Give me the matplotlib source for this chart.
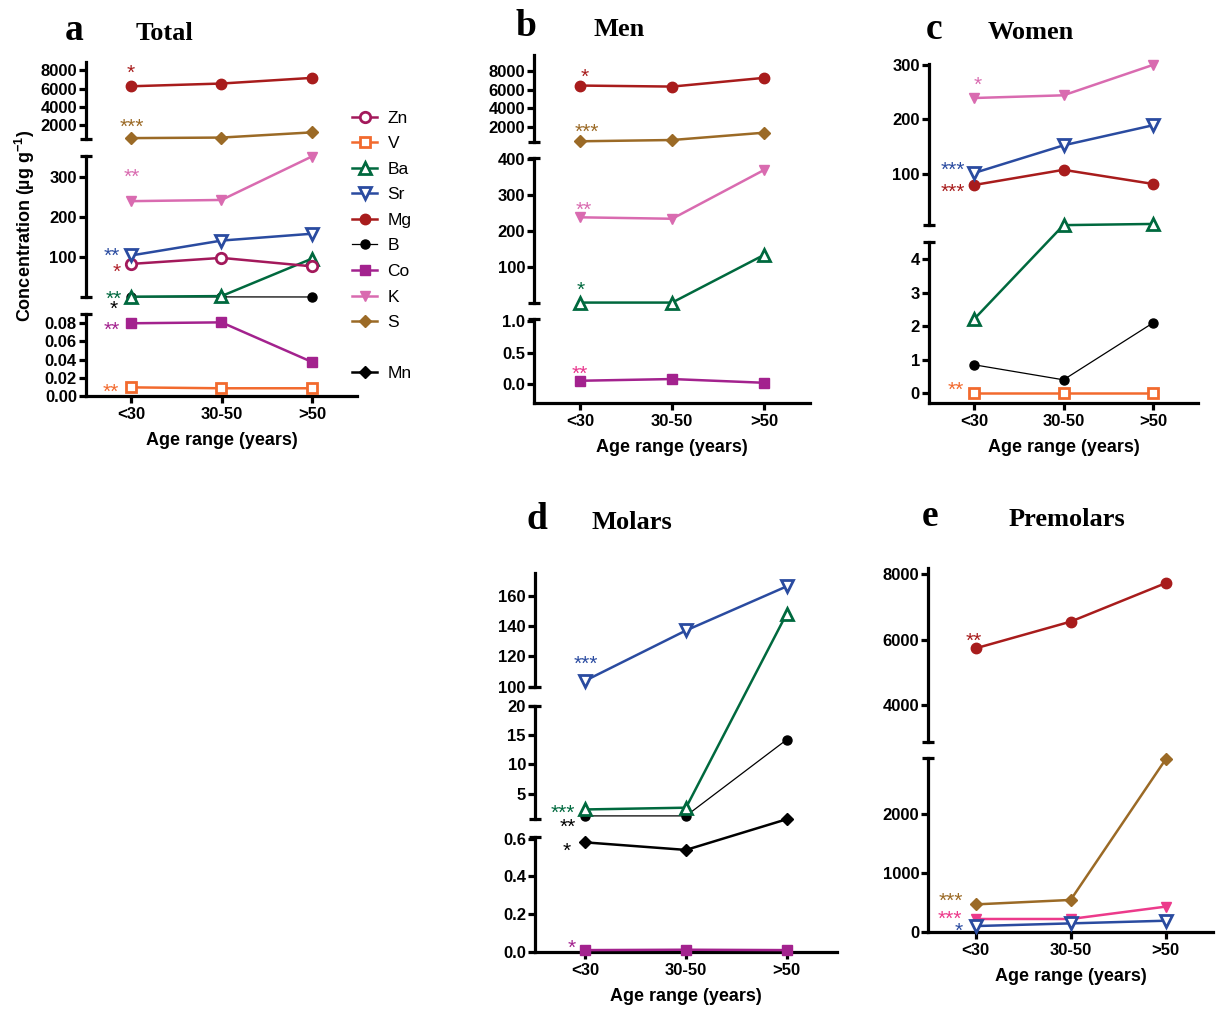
import matplotlib.pyplot as plt
from matplotlib.lines import Line2D

plt.rcParams['font.family'] = ['Liberation Sans', 'DejaVu Sans']
plt.rcParams['mathtext.fontset'] = 'custom'
plt.rcParams['mathtext.rm'] = 'Liberation Sans:bold'
plt.rcParams['mathtext.bf'] = 'Liberation Sans:bold'

ages = ['<30', '30-50', '>50']

# a: Total
total_mg = [6250, 6550, 7170]
total_s = [560, 620, 1190]
total_k = [239, 242, 350]
total_sr = [104, 141, 158]
total_zn = [83, 98, 77]
total_ba = [1.5, 3, 96]
total_b = [1.0, 1.0, 0.8]
total_co = [0.080, 0.081, 0.0375]
total_v = [0.0095, 0.0085, 0.0085]

# b: Men
men_mg = [6430, 6320, 7260]
men_s = [430, 567, 1354]
men_k = [238, 234, 369]
men_ba = [2, 2, 134]
men_co = [0.057, 0.084, 0.025]

# c: Women
women_k = [239, 244, 300]
women_sr = [101, 152, 189]
women_mg = [79, 107, 81]
women_ba = [2.2, 5.3, 7.5]
women_b = [0.85, 0.4, 2.1]
women_v = [0.0, 0.0, 0.0]

# d: Molars
molars_sr = [104, 137, 166]
molars_ba = [2.3, 2.6, 148]
molars_b = [1.2, 1.2, 14.2]
molars_mn = [0.58, 0.54, 0.63]
molars_co = [0.01, 0.012, 0.01]

# e: Premolars
premolars_mg = [5735, 6550, 7725]
premolars_s = [470, 545, 2910]
premolars_k = [224, 224, 432]
premolars_sr = [105, 150, 195]

legend_order = ['Zn', 'V', 'Ba', 'Sr', 'Mg', 'B', 'Co', 'K', 'S']

styles = {
    'Zn': dict(color='#A3195B', marker='o', mfc='white', ms=7.5, mew=2, lw=1.8),
    'V': dict(color='#F26A2E', marker='s', mfc='white', ms=7, mew=2, lw=1.8),
    'Ba': dict(color='#00693E', marker='^', mfc='white', ms=8.5, mew=2, lw=1.8),
    'Sr': dict(color='#2A4BA0', marker='v', mfc='white', ms=8.5, mew=2, lw=1.8),
    'Mg': dict(color='#A81C1C', marker='o', ms=7.5, lw=1.8),
    'B': dict(color='black', marker='o', ms=6.5, lw=0.9),
    'Co': dict(color='#A3228E', marker='s', ms=7, lw=1.8),
    'K': dict(color='#D96BB0', marker='v', ms=7.5, lw=1.8),
    'S': dict(color='#9B6A26', marker='D', ms=6.5, lw=1.8),
    'Mn': dict(color='black', marker='D', ms=6.5, lw=1.8),
    'K2': dict(color='#EC3A8B', marker='v', ms=7.5, lw=1.8),
}

W, H = 1216, 1009
fig = plt.figure(figsize=(W / 100, H / 100), dpi=100)


def px_rect(x0, x1, top, bottom):
    return [x0 / W, 1 - bottom / H, (x1 - x0) / W, (bottom - top) / H]


def make_panel(x0, x1, segs):
    # segs from top to bottom: (top px, bottom px, ylo, yhi, ticks, fmt)
    axes = []
    n = len(segs)
    for i, (top, bottom, lo, hi, ticks, fmt) in enumerate(segs):
        ax = fig.add_axes(px_rect(x0, x1, top, bottom))
        ax.set_xlim(-0.5, 2.5)
        ax.set_ylim(lo, hi)
        ax.patch.set_alpha(0)
        ax.spines['top'].set_visible(False)
        ax.spines['right'].set_visible(False)
        ax.spines['left'].set_linewidth(2.3)
        ax.set_yticks(ticks)
        ax.set_yticklabels([fmt.format(t) for t in ticks], fontweight='bold')
        ax.tick_params(axis='y', length=5, width=2.3, pad=1.5, labelsize=12)
        if i == n - 1:
            ax.spines['bottom'].set_linewidth(2.3)
            ax.set_xticks(range(3))
            ax.set_xticklabels(ages, fontweight='bold')
            ax.tick_params(axis='x', length=5, width=2.3, pad=3, labelsize=12)
            ax.set_xlabel('Age range (years)', fontweight='bold', fontsize=13, labelpad=7)
        else:
            ax.spines['bottom'].set_visible(False)
            ax.set_xticks([])
        if i > 0:
            ax.plot([0], [1], transform=ax.transAxes, marker='_', ms=8, mew=2.3,
                    color='black', clip_on=False)
        if i < n - 1:
            ax.plot([0], [0], transform=ax.transAxes, marker='_', ms=8, mew=2.3,
                    color='black', clip_on=False)
        axes.append(ax)
    return axes[::-1]


def fig_xy(axes, x, y):
    for ax in axes:
        lo, hi = ax.get_ylim()
        if lo <= y <= hi:
            break
    disp = ax.transData.transform((x, y))
    return fig.transFigure.inverted().transform(disp)


def draw_series(axes, values, key, star=None, star_color=None):
    pts = [fig_xy(axes, i, v) for i, v in enumerate(values)]
    xs = [p[0] for p in pts]
    ys = [p[1] for p in pts]
    st = styles[key]
    fig.add_artist(Line2D(xs, ys, transform=fig.transFigure, zorder=3, **st))
    if star:
        text, dx, dy = star
        fig.text(xs[0] + dx / W, ys[0] - (dy + 12) / H, text,
                 color=star_color or st['color'], ha='center', va='baseline', fontsize=15)


# panel a
ax_a = make_panel(86, 357, [
    (62.3, 139.3, 430, 8880, [2000, 4000, 6000, 8000], '{:d}'),
    (155.7, 297.3, 0, 352, [100, 200, 300], '{:d}'),
    (314, 396, 0, 0.0902, [0, 0.02, 0.04, 0.06, 0.08], '{:.2f}'),
])
draw_series(ax_a, total_b, 'B', ('*', -17, 6))
draw_series(ax_a, total_ba, 'Ba', ('**', -17, -4))
draw_series(ax_a, total_zn, 'Zn', ('*', -14, 2), '#B0202A')
draw_series(ax_a, total_sr, 'Sr', ('**', -19, -6))
draw_series(ax_a, total_k, 'K', ('**', 1, -30))
draw_series(ax_a, total_s, 'S', ('***', 1, -17))
draw_series(ax_a, total_mg, 'Mg', ('*', 0, -19))
draw_series(ax_a, total_co, 'Co', ('**', -19, 1))
draw_series(ax_a, total_v, 'V', ('**', -20, -2))

# panel b
ax_b = make_panel(534.3, 810, [
    (55, 141.7, 385, 9720, [2000, 4000, 6000, 8000], '{:d}'),
    (157.7, 303.3, 0, 403, [100, 200, 300, 400], '{:d}'),
    (319.3, 403.3, -0.3, 1.03, [0.0, 0.5, 1.0], '{:.1f}'),
])
draw_series(ax_b, men_ba, 'Ba', ('*', 0, -19))
draw_series(ax_b, men_k, 'K', ('**', 3, -13))
draw_series(ax_b, men_s, 'S', ('***', 7, -15))
draw_series(ax_b, men_mg, 'Mg', ('*', 4, -15))
draw_series(ax_b, men_co, 'Co', ('**', 0, -13), '#E8358C')

# panel c
ax_c = make_panel(929, 1198, [
    (64.3, 225.3, 5, 301, [100, 200, 300], '{:d}'),
    (242.3, 403.3, -0.3, 4.5, [0, 1, 2, 3, 4], '{:d}'),
])
draw_series(ax_c, women_b, 'B')
draw_series(ax_c, women_ba, 'Ba')
draw_series(ax_c, women_v, 'V', ('**', -18, -9))
draw_series(ax_c, women_mg, 'Mg', ('***', -21, 1))
draw_series(ax_c, women_sr, 'Sr', ('***', -21, -9))
draw_series(ax_c, women_k, 'K', ('*', 4, -19))

# panel d
ax_d = make_panel(535, 837, [
    (572.7, 686.7, 100, 175, [100, 120, 140, 160], '{:d}'),
    (705.7, 819.3, 0.62, 20, [5, 10, 15, 20], '{:d}'),
    (836.7, 952, 0, 0.61, [0.0, 0.2, 0.4, 0.6], '{:.1f}'),
])
draw_series(ax_d, molars_b, 'B', ('**', -18, 5))
draw_series(ax_d, molars_mn, 'Mn', ('*', -19, 2))
draw_series(ax_d, molars_ba, 'Ba', ('***', -23, -3))
draw_series(ax_d, molars_sr, 'Sr', ('***', 0, -23))
draw_series(ax_d, molars_co, 'Co', ('*', -14, -8))

# panel e
ax_e = make_panel(928.3, 1213, [
    (568.3, 741.7, 2880, 8180, [4000, 6000, 8000], '{:d}'),
    (758.3, 932.3, 0, 2930, [0, 1000, 2000], '{:d}'),
])
draw_series(ax_e, premolars_s, 'S', ('***', -25, -10))
draw_series(ax_e, premolars_k, 'K2', ('***', -26, -6))
draw_series(ax_e, premolars_sr, 'Sr', ('*', -17, -1))
draw_series(ax_e, premolars_mg, 'Mg', ('**', -2, -13))

# titles
for letter, name, lx, nx, base in [('a', 'Total', 65, 136, 40), ('b', 'Men', 516, 593, 35.5),
                                   ('c', 'Women', 926, 988, 39), ('d', 'Molars', 527, 591, 529),
                                   ('e', 'Premolars', 922, 1009, 526.5)]:
    fig.text(lx / W, 1 - base / H, letter, family='Liberation Serif', fontweight='bold',
             fontsize=27, va='baseline', ha='left')
    fig.text(nx / W, 1 - base / H, name, family='Liberation Serif', fontweight='bold',
             fontsize=19, va='baseline', ha='left')

fig.text(25 / W, 1 - 226 / H, 'Concentration (µg g$^{-1}$)', rotation=90, ha='center',
         va='center', fontsize=13, fontweight='bold')

# legend
handles = [Line2D([], [], **styles[k]) for k in legend_order]
handles.append(Line2D([], [], ls='none'))
handles.append(Line2D([], [], **styles['Mn']))
labels = legend_order + ['', 'Mn']
fig.legend(handles, labels, loc='upper left', bbox_to_anchor=(352 / W, 1 - 110.5 / H),
           frameon=False, fontsize=12.5, handlelength=1.45, handletextpad=0.6,
           labelspacing=0.6, borderpad=0, borderaxespad=0)

fig.savefig('out.png', dpi=100)
